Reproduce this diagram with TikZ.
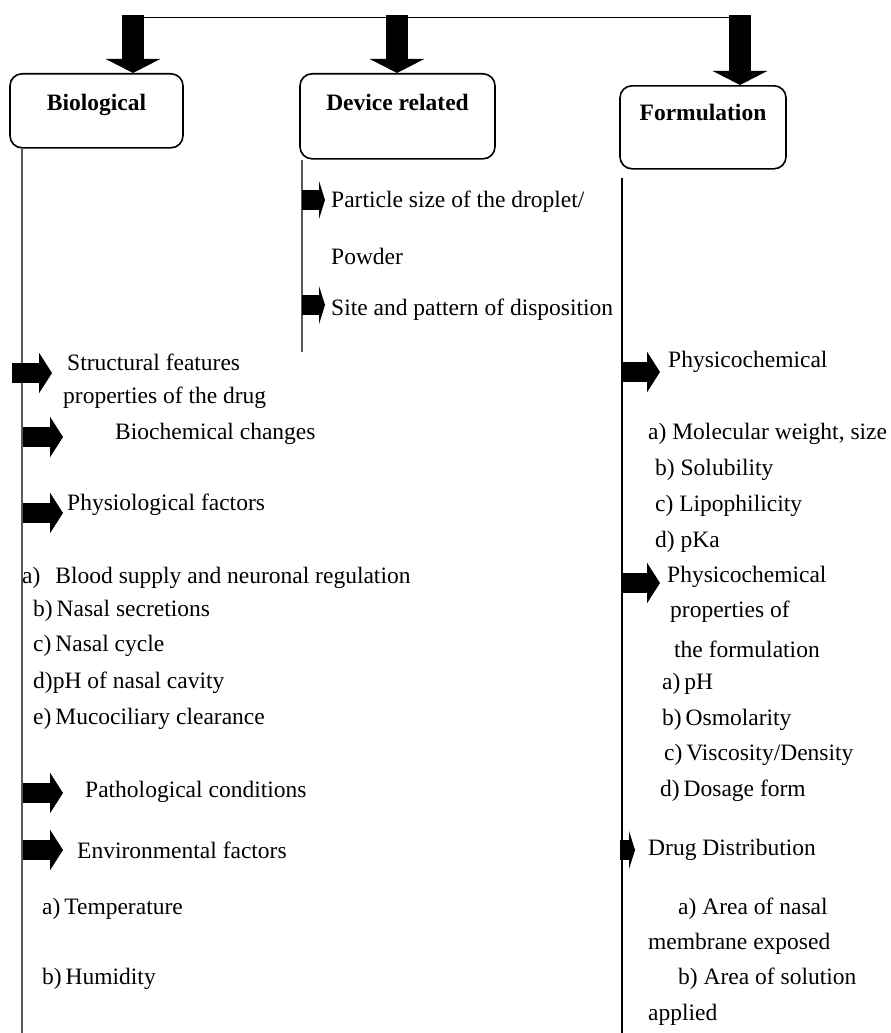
\documentclass[tikz,border=0pt]{standalone}
\usepackage{fontspec}
\setmainfont{Liberation Serif}
\usetikzlibrary{arrows.meta}

\tikzset{
    headbox/.style={draw, line width=1.6pt, rounded corners=12pt, inner sep=0pt,
        font=\fontsize{23.5}{28}\selectfont\bfseries},
    item/.style={inner sep=0pt, anchor=west, yshift=-2pt},
    bigdown/.style={line width=22pt, -{Triangle[length=14pt, width=54pt]}},
    sidearrow/.style={line width=20pt, -{Triangle[length=13pt, width=40pt]}},
    smallarrow/.style={line width=20pt, -{Triangle[length=6pt, width=38pt]}},
    stem/.style={line width=1.3pt, black!65}
}

\begin{document}
\begin{tikzpicture}[x=1pt, y=-1pt, font=\fontsize{23.5}{28}\selectfont]
    \useasboundingbox (0,0) rectangle (891,1033);

    % Heading boxes
    \node[headbox, anchor=north, minimum width=173pt, text height=37pt, text depth=37pt] (bio) at (96.5,73) {Biological};
    \node[headbox, anchor=north, minimum width=195pt, text height=37pt, text depth=48pt] (dev) at (397.5,73) {Device related};
    \node[headbox, anchor=north, minimum width=166pt, text height=35pt, text depth=48pt] (form) at (703,85) {Formulation};

    % Top bar and the three block arrows
    \coordinate (t1) at (133,15);
    \coordinate (t2) at (397,15);
    \coordinate (t3) at (740,15);
    \draw[line width=1pt] (t1 |- 0,18) -- (t3 |- 0,18);
    \draw[bigdown] (t1) -- (t1 |- bio.north);
    \draw[bigdown] (t2) -- (t2 |- dev.north);
    \draw[bigdown] (t3) -- (t3 |- form.north);

    % Vertical stems
    \coordinate (bioend) at (22,1033);
    \coordinate (devend) at (302,352);
    \coordinate (formend) at (622,1033);
    \draw[stem] (bioend |- bio.south) -- (bioend);
    \draw[stem] (devend |- dev.south) -- (devend);
    \draw[stem, black] (622,178) -- (formend);

    % Device related
    \foreach \n/\y in {dp1/200, dp2/305}{
        \coordinate (\n) at (302,\y);
        \draw[smallarrow] (\n) -- ++(23,0);
    }
    \node[item] (dpart) at (331,200) {Particle size of the droplet/};
    \node[item] (dpow) at (331,254) {Powder};
    \node[item] (dsite) at (331,308) {Site and pattern of disposition};

    % Biological
    \coordinate (bp1) at (12,373);
    \draw[sidearrow] (bp1) -- ++(40,0);
    \foreach \n/\y in {bp2/437, bp3/513, bp4/793, bp5/850}{
        \coordinate (\n) at (23,\y);
        \draw[sidearrow] (\n) -- ++(40,0);
    }
    \node[item] (bstr) at (67,360) {Structural features};
    \node[item] (bprop) at (63,396) {properties of the drug};
    \node[item] (bchem) at (115,432) {Biochemical changes};
    \node[item] (bphys) at (67,503) {Physiological factors};
    \node[item] (bblood) at (22,576) {a)\hspace{15pt}Blood supply and neuronal regulation};
    \node[item] (bsec) at (33,609) {b)\,Nasal secretions};
    \node[item] (bcyc) at (33,644) {c)\,Nasal cycle};
    \node[item] (bph) at (33,681) {d)pH of nasal cavity};
    \node[item] (bmuc) at (33,717) {e)\,Mucociliary clearance};
    \node[item] (bpath) at (85,790) {Pathological conditions};
    \node[item] (benv) at (77,848) {Environmental factors};
    \node[item] (btemp) at (42,907) {a)\,Temperature};
    \node[item] (bhum) at (42,977) {b)\,Humidity};

    % Formulation
    \foreach \n/\y in {fp1/372, fp2/583}{
        \coordinate (\n) at (622,\y);
        \draw[sidearrow] (\n) -- ++(38,0);
    }
    \coordinate (fp3) at (620,850);
    \draw[smallarrow] (fp3) -- ++(15,0);
    \node[item] (fphys) at (668,360) {Physicochemical};
    \node[item] (fmol) at (648,432) {a) Molecular weight, size};
    \node[item] (fsol) at (655,468) {b) Solubility};
    \node[item] (flip) at (655,504) {c) Lipophilicity};
    \node[item] (fpka) at (655,540) {d) pKa};
    \node[item] (fphys2) at (667,575) {Physicochemical};
    \node[item] (fprop) at (670,610) {properties of};
    \node[item] (fthe) at (674,647) {the formulation};
    \node[item] (fph) at (662,682) {a)\,pH};
    \node[item] (fosm) at (662,718) {b)\,Osmolarity};
    \node[item] (fvis) at (664,753) {c)\,Viscosity/Density};
    \node[item] (fdos) at (660,789) {d)\,Dosage form};
    \node[item] (fdrug) at (648,848) {Drug Distribution};
    \node[item] (farea) at (678,907) {a) Area of nasal};
    \node[item] (fmem) at (648,942) {membrane exposed};
    \node[item] (fsoln) at (678,977) {b) Area of solution};
    \node[item] (fapp) at (648,1013) {applied};
\end{tikzpicture}
\end{document}
